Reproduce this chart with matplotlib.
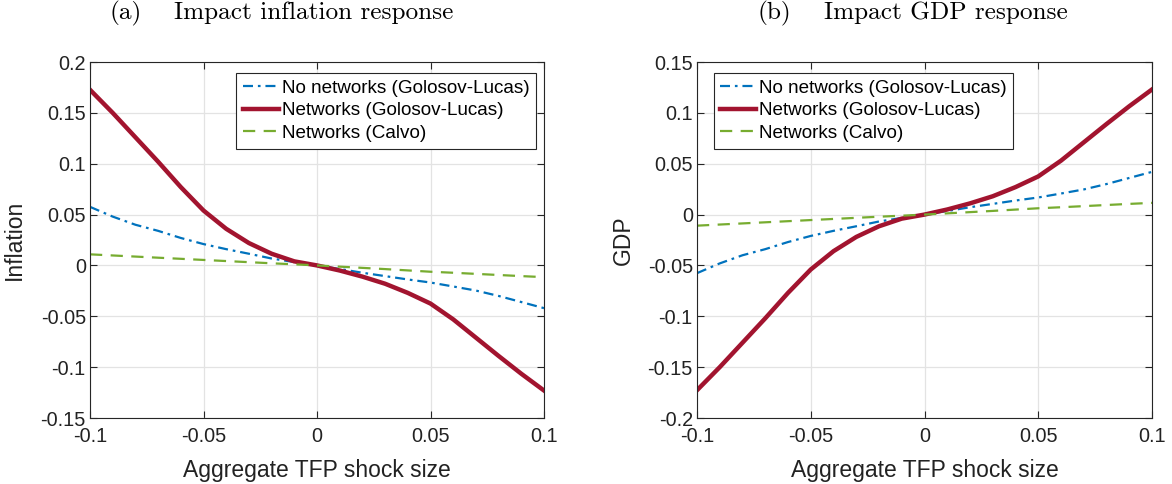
import numpy as np
import matplotlib
matplotlib.use('Agg')
import matplotlib.pyplot as plt

matplotlib.rcParams.update({
    'font.family': ['Liberation Sans', 'DejaVu Sans'],
    'axes.unicode_minus': False,
})

# ── Data ──────────────────────────────────────────────────────────────────────
shock = [-0.10, -0.09, -0.08, -0.07, -0.06, -0.05, -0.04, -0.03, -0.02, -0.01, 0.00,
         0.01, 0.02, 0.03, 0.04, 0.05, 0.06, 0.07, 0.08, 0.09, 0.10]

infl_no_net_gl = [0.0576, 0.048, 0.040, 0.034, 0.027, 0.021, 0.016, 0.0115, 0.0068, 0.0033, 0.0,
                  -0.0035, -0.0072, -0.0105, -0.0138, -0.0168, -0.0207, -0.0247, -0.030, -0.036, -0.042]
infl_net_gl = [0.1727, 0.150, 0.126, 0.102, 0.077, 0.054, 0.036, 0.022, 0.0115, 0.0040, 0.0,
               -0.0050, -0.0110, -0.0180, -0.0270, -0.0375, -0.0530, -0.0710, -0.0890, -0.1065, -0.1230]
infl_net_calvo = [0.0109, 0.0098, 0.0087, 0.0076, 0.0065, 0.0054, 0.0043, 0.0032, 0.0021, 0.0011, 0.0,
                  -0.0012, -0.0024, -0.0036, -0.0049, -0.0062, -0.0072, -0.0083, -0.0094, -0.0105, -0.0115]

gdp_no_net_gl = [-0.0576, -0.048, -0.040, -0.034, -0.027, -0.021, -0.016, -0.0115, -0.0068, -0.0033, 0.0,
                 0.0035, 0.0072, 0.0105, 0.0138, 0.0168, 0.0207, 0.0247, 0.030, 0.036, 0.042]
gdp_net_gl = [-0.1727, -0.150, -0.126, -0.102, -0.077, -0.054, -0.036, -0.022, -0.0115, -0.0040, 0.0,
              0.0050, 0.0110, 0.0180, 0.0270, 0.0375, 0.0530, 0.0710, 0.0890, 0.1065, 0.1230]
gdp_net_calvo = [-0.0109, -0.0098, -0.0087, -0.0076, -0.0065, -0.0054, -0.0043, -0.0032, -0.0021, -0.0011, 0.0,
                 0.0012, 0.0024, 0.0036, 0.0049, 0.0062, 0.0072, 0.0083, 0.0094, 0.0105, 0.0115]

x_ticks = [-0.1, -0.05, 0, 0.05, 0.1]
x_tick_labels = ['-0.1', '-0.05', '0', '0.05', '0.1']
infl_yticks = [-0.15, -0.1, -0.05, 0, 0.05, 0.1, 0.15, 0.2]
infl_ytick_labels = ['-0.15', '-0.1', '-0.05', '0', '0.05', '0.1', '0.15', '0.2']
gdp_yticks = [-0.2, -0.15, -0.1, -0.05, 0, 0.05, 0.1, 0.15]
gdp_ytick_labels = ['-0.2', '-0.15', '-0.1', '-0.05', '0', '0.05', '0.1', '0.15']

labels = ['No networks (Golosov-Lucas)', 'Networks (Golosov-Lucas)', 'Networks (Calvo)']

BLUE = '#0072BD'
RED = '#A2142F'
GREEN = '#77AC30'
EDGE = '#262626'

W, H = 1172, 484
fig = plt.figure(figsize=(W / 100, H / 100), dpi=100)


def draw_panel(rect, y_series, yticks, yticklabels, ylim, ylabel, ylabelpad, leg_loc, leg_anchor):
    ax = fig.add_axes(rect)
    no_net, net, calvo = y_series
    ax.plot(shock, no_net, color=BLUE, lw=1.6, dashes=(4.5, 2.2, 1.2, 2.2), label=labels[0])
    ax.plot(shock, net, color=RED, lw=3.2, label=labels[1])
    ax.plot(shock, calvo, color=GREEN, lw=1.6, dashes=(5.5, 3.8), label=labels[2])
    ax.set_xlim(-0.1, 0.1)
    ax.set_ylim(*ylim)
    ax.set_xticks(x_ticks)
    ax.set_xticklabels(x_tick_labels)
    ax.set_yticks(yticks)
    ax.set_yticklabels(yticklabels)
    ax.grid(True, color='#e3e3e3', lw=0.9)
    ax.set_axisbelow(True)
    ax.tick_params(direction='in', length=5, width=0.8, color=EDGE, top=True, right=True,
                   labelsize=14.3, labelcolor='#222222')
    ax.tick_params(axis='x', pad=6.5)
    ax.tick_params(axis='y', pad=3)
    for sp in ax.spines.values():
        sp.set_color(EDGE)
        sp.set_linewidth(0.8)
    ax.set_xlabel('Aggregate TFP shock size', fontsize=16.5, color='#222222', labelpad=9.5)
    ax.set_ylabel(ylabel, fontsize=16.5, color='#222222', labelpad=ylabelpad)
    leg = ax.legend(loc=leg_loc, bbox_to_anchor=leg_anchor, fontsize=13.6, frameon=True,
                    fancybox=False, handlelength=1.9, handletextpad=0.15, borderpad=0.35,
                    labelspacing=0.28, borderaxespad=0.0, edgecolor=EDGE, framealpha=1)
    leg.get_frame().set_linewidth(0.8)
    return ax


ax1 = draw_panel([90 / W, 1 - 418 / H, 454 / W, 356 / H],
                 (infl_no_net_gl, infl_net_gl, infl_net_calvo),
                 infl_yticks, infl_ytick_labels, (-0.15, 0.2), 'Inflation', 10.5,
                 'upper right', (0.982, 0.969))
ax2 = draw_panel([697 / W, 1 - 418 / H, 455 / W, 356 / H],
                 (gdp_no_net_gl, gdp_net_gl, gdp_net_calvo),
                 gdp_yticks, gdp_ytick_labels, (-0.2, 0.15), 'GDP', 9,
                 'upper left', (0.037, 0.969))

# panel titles (serif, LaTeX-like)
ty = 1 - 19 / H
fs_title = 18.2
fig.text(110 / W, ty, '(a)', family='cmr10', fontsize=fs_title, va='baseline')
fig.text(174 / W, ty, 'Impact inflation response', family='cmr10', fontsize=fs_title, va='baseline')
fig.text(758 / W, ty, '(b)', family='cmr10', fontsize=fs_title, va='baseline')
fig.text(824 / W, ty, 'Impact GDP response', family='cmr10', fontsize=fs_title, va='baseline')

fig.savefig('out.png', dpi=100)
